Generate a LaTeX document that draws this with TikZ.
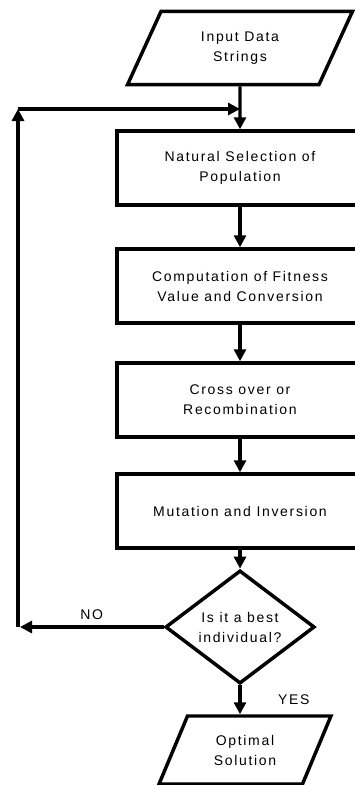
\documentclass[tikz,border=0pt]{standalone}
\usepackage{fontspec}
\setmainfont{Liberation Sans}[LetterSpace=12]
\usetikzlibrary{shapes.geometric,arrows.meta}
\begin{document}
\begin{tikzpicture}[x=0.75pt,y=-0.75pt,line width=2.6pt,
>={Triangle[length=9pt,width=9pt]},
every node/.style={font=\fontsize{10.5}{15}\selectfont,align=center},
process/.style={draw,rectangle,minimum width=184.5pt,minimum height=55.5pt,inner sep=0pt},
io/.style={draw,trapezium,trapezium left angle=63,trapezium right angle=117,trapezium stretches=true,inner sep=0pt},
decision/.style={draw,diamond,minimum width=112pt,minimum height=67.5pt,inner sep=0pt}]
\useasboundingbox (0,0) rectangle (354,785);

\draw (240,48) node[io,minimum width=170pt,minimum height=55pt] (input) {Input Data\\Strings};
\draw (240,168) node[process] (select) {Natural Selection of\\Population};
\draw (240,286) node[process] (fitness) {Computation of Fitness\\Value and Conversion};
\draw (240,400) node[process] (cross) {Cross over or\\Recombination};
\draw (240,511) node[process] (mutate) {Mutation and Inversion};
\draw (240,627) node[decision] (best) {Is it a best\\individual?};
\draw (245,750) node[io,minimum width=129pt,minimum height=51pt] (optimal) {Optimal\\Solution};

\coordinate (back) at (20,627);
\coordinate (corner) at (18,109);
\coordinate (join) at (240,109);

\draw[->] (input) -- (select);
\draw[->] (select) -- (fitness);
\draw[->] (fitness) -- (cross);
\draw[->] (cross) -- (mutate);
\draw[->] (mutate) -- (best);
\draw[->] (best) -- (optimal.north -| best) node[midway,right=24pt] {YES};
\draw[->] (best) -- (back) node[midway,above=1pt] {NO};
\draw[->] (corner |- back) -- (corner);
\draw[->] (corner) -- (join);

\end{tikzpicture}
\end{document}
